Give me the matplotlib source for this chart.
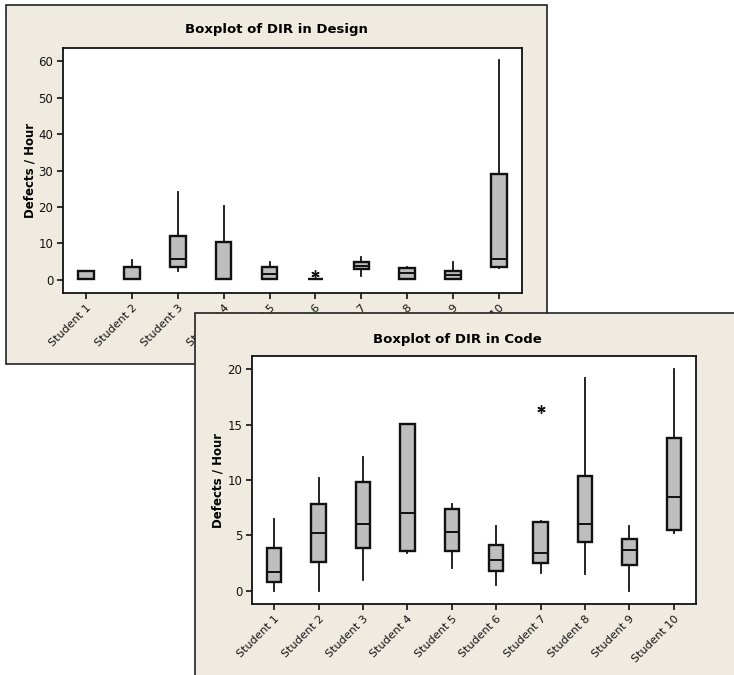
import matplotlib.pyplot as plt
from matplotlib.patches import Rectangle

students = ['Student %d' % i for i in range(1, 11)]

# five-number summaries
design_lo = [0.3, 0.3, 2.3, 0.3, 0.3, 0.3, 1.1, 0.35, 0.35, 3.3]
design_q1 = [0.3, 0.3, 3.56, 0.35, 0.36, 0.3, 2.92, 0.36, 0.36, 3.56]
design_med = [0.3, 0.3, 5.75, 0.35, 1.64, 0.3, 3.93, 1.83, 1.37, 5.84]
design_q3 = [2.47, 3.65, 12.0, 10.3, 3.65, 0.3, 4.93, 3.38, 2.47, 29.0]
design_hi = [2.47, 5.5, 24.0, 20.4, 5.0, 0.3, 6.2, 3.65, 5.0, 60.2]
design_out = [[], [], [], [], [], [1.64], [], [], [], []]

code_lo = [0, 0, 0.93, 3.4, 2.02, 0.51, 1.63, 1.48, 0, 5.18]
code_q1 = [0.81, 2.59, 3.86, 3.55, 3.55, 1.78, 2.47, 4.37, 2.32, 5.48]
code_med = [1.66, 5.18, 6.02, 6.99, 5.33, 2.74, 3.43, 6.02, 3.70, 8.49]
code_q3 = [3.83, 7.80, 9.85, 15.1, 7.41, 4.13, 6.17, 10.39, 4.67, 13.83]
code_hi = [6.48, 10.2, 12.08, 15.1, 7.83, 5.81, 6.33, 19.2, 5.81, 20.0]
code_out = [[], [], [], [], [], [], [16.39], [], [], []]

BEIGE = '#EFEBE0'
BOXGRAY = '#BEBEBE'

plt.rcParams['font.family'] = 'DejaVu Sans'
fig = plt.figure(figsize=(7.34, 6.75), dpi=100)
fig.patch.set_facecolor('white')


def make_stats(lo, q1, med, q3, hi, out):
    return [dict(whislo=a, q1=b, med=c, q3=d, whishi=e, fliers=f, label=s)
            for a, b, c, d, e, f, s in zip(lo, q1, med, q3, hi, out, students)]


def draw_panel(ax, stats, ylim, yticks, width):
    ax.bxp(stats, positions=range(1, 11), widths=width, showcaps=False,
           patch_artist=True, manage_ticks=False,
           boxprops=dict(facecolor=BOXGRAY, edgecolor='#111111', linewidth=1.7),
           medianprops=dict(color='#111111', linewidth=1.4),
           whiskerprops=dict(color='#111111', linewidth=1.3),
           flierprops=dict(marker=(6, 2, 0), markersize=6, markeredgecolor='#111111',
                           markeredgewidth=1.0, linestyle='none'))
    ax.set_xlim(0.5, 10.5)
    ax.set_ylim(*ylim)
    ax.set_yticks(yticks)
    ax.set_xticks(range(1, 11))
    ax.set_xticklabels(students, rotation=45, ha='right', rotation_mode='anchor')
    ax.tick_params(axis='both', direction='out', length=4, width=1.2,
                   labelsize=8.5, colors='#111111', pad=3)
    ax.tick_params(axis='x', labelsize=8)
    for sp in ax.spines.values():
        sp.set_linewidth(1.3)
        sp.set_color('#111111')
    ax.set_facecolor('white')


# top panel frame
fig.add_artist(Rectangle((6 / 734, 1 - 364 / 675), 541 / 734, 359 / 675,
                         transform=fig.transFigure, facecolor=BEIGE,
                         edgecolor='#222222', linewidth=1.2, zorder=-1))

ax1 = fig.add_axes([63 / 734, 1 - 293 / 675, 459 / 734, 245 / 675], zorder=0)
draw_panel(ax1, make_stats(design_lo, design_q1, design_med, design_q3, design_hi, design_out),
           (-3.6, 63.6), [0, 10, 20, 30, 40, 50, 60], 0.34)
fig.text(276 / 734, 1 - 30 / 675, 'Boxplot of DIR in Design', ha='center', va='center',
         fontsize=9.5, fontweight='bold', zorder=0)
fig.text(30 / 734, 1 - 170 / 675, 'Defects / Hour', ha='center', va='center',
         rotation=90, fontsize=8.5, fontweight='bold', zorder=0)

# bottom panel frame (covers part of the top one)
fig.add_artist(Rectangle((195 / 734, -0.05), 0.8, 1 - 313 / 675 + 0.05,
                         transform=fig.transFigure, facecolor=BEIGE,
                         edgecolor='#222222', linewidth=1.2, zorder=1))

ax2 = fig.add_axes([252 / 734, 1 - 604 / 675, 444 / 734, 248 / 675], zorder=2)
draw_panel(ax2, make_stats(code_lo, code_q1, code_med, code_q3, code_hi, code_out),
           (-1.2, 21.2), [0, 5, 10, 15, 20], 0.32)
fig.text(457 / 734, 1 - 339 / 675, 'Boxplot of DIR in Code', ha='center', va='center',
         fontsize=9.5, fontweight='bold', zorder=3)
fig.text(218 / 734, 1 - 480 / 675, 'Defects / Hour', ha='center', va='center',
         rotation=90, fontsize=8.5, fontweight='bold', zorder=3)

fig.savefig('out.png', dpi=100)
